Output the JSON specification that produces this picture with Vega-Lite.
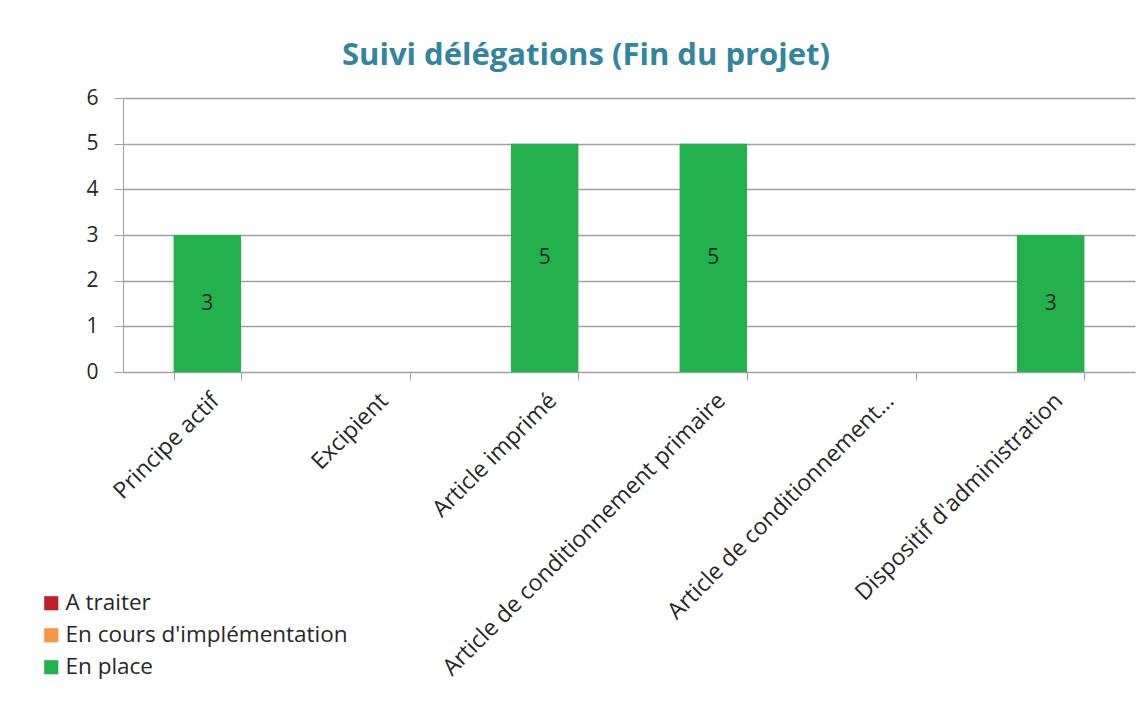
{
  "$schema": "https://vega.github.io/schema/vega-lite/v6.json",
  "autosize": "none",
  "width": 1012,
  "height": 274,
  "padding": {"left": 123, "top": 98, "right": 9, "bottom": 330},
  "background": "white",
  "title": {
    "text": "Suivi délégations (Fin du projet)",
    "font": "Open Sans",
    "fontSize": 31,
    "fontWeight": "bold",
    "color": "#31859C",
    "anchor": "middle",
    "frame": "group",
    "dx": -43,
    "offset": 15
  },
  "data": {
    "values": [
      {"categorie": "Principe actif", "statut": "En place", "nombre": 3},
      {"categorie": "Article imprimé", "statut": "En place", "nombre": 5},
      {"categorie": "Article de conditionnement primaire", "statut": "En place", "nombre": 5},
      {"categorie": "Dispositif d'administration", "statut": "En place", "nombre": 3}
    ]
  },
  "encoding": {
    "x": {
      "field": "categorie",
      "type": "nominal",
      "sort": null,
      "scale": {
        "domain": ["Principe actif", "Excipient", "Article imprimé", "Article de conditionnement primaire", "Article de conditionnement…", "Dispositif d'administration"],
        "paddingInner": 0.6,
        "paddingOuter": 0.3
      },
      "axis": {
        "title": null,
        "labelAngle": -45,
        "labelFont": "Open Sans",
        "labelFontSize": 23,
        "labelColor": "#262626",
        "labelLimit": 500,
        "tickBand": "extent",
        "tickSize": 8,
        "tickColor": "#A0A0A0",
        "domainColor": "#A0A0A0",
        "labelPadding": 9,
        "labelDx": -4,
        "labelOverlap": false,
        "grid": false
      }
    },
    "y": {
      "field": "nombre",
      "type": "quantitative",
      "stack": "zero",
      "scale": {"domain": [0, 6], "nice": false},
      "axis": {
        "title": null,
        "values": [0, 1, 2, 3, 4, 5, 6],
        "labelFont": "Open Sans",
        "labelFontSize": 21,
        "labelColor": "#262626",
        "labelPadding": 16,
        "tickSize": 9,
        "tickColor": "#A0A0A0",
        "domainColor": "#A0A0A0",
        "gridColor": "#A0A0A0",
        "gridWidth": 1.5,
        "grid": true
      }
    }
  },
  "layer": [
    {
      "mark": {"type": "bar"},
      "encoding": {
        "color": {
          "field": "statut",
          "type": "nominal",
          "scale": {
            "domain": ["A traiter", "En cours d'implémentation", "En place"],
            "range": ["#C0202A", "#F79646", "#23B14D"]
          },
          "legend": {
            "title": null,
            "orient": "none",
            "legendX": -83,
            "legendY": 494,
            "symbolType": "square",
            "symbolSize": 200,
            "symbolStrokeWidth": 0,
            "symbolOpacity": 1,
            "labelFont": "Open Sans",
            "labelFontSize": 22.5,
            "labelColor": "#262626",
            "labelLimit": 500,
            "rowPadding": 9,
            "labelOffset": 3
          }
        }
      }
    },
    {
      "mark": {"type": "text", "font": "Open Sans", "fontSize": 21, "color": "#262626", "baseline": "middle"},
      "encoding": {
        "y": {"field": "nombre", "type": "quantitative", "stack": "zero", "bandPosition": 0.5},
        "detail": {"field": "statut"},
        "text": {"field": "nombre", "type": "quantitative"}
      }
    }
  ],
  "config": {
    "view": {"stroke": null}
  }
}
